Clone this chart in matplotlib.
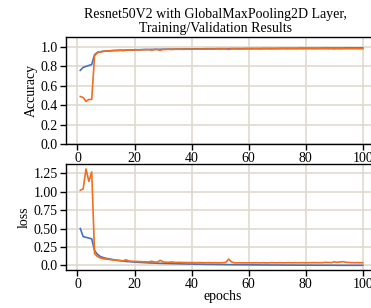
import matplotlib.pyplot as plt
import numpy as np

epochs = np.arange(1, 101)

acc = [0.76, 0.79, 0.80, 0.81, 0.82, 0.92, 0.945, 0.95, 0.955, 0.958,
       0.96, 0.962, 0.964, 0.965, 0.966, 0.967, 0.968, 0.969, 0.970, 0.971,
       0.972, 0.972, 0.973, 0.974, 0.974, 0.975, 0.975, 0.976, 0.976, 0.977,
       0.977, 0.978, 0.978, 0.978, 0.979, 0.979, 0.979, 0.980, 0.980, 0.980,
       0.981, 0.981, 0.981, 0.981, 0.982, 0.982, 0.982, 0.982, 0.983, 0.983,
       0.983, 0.983, 0.983, 0.984, 0.984, 0.984, 0.984, 0.984, 0.985, 0.985,
       0.985, 0.985, 0.985, 0.985, 0.986, 0.986, 0.986, 0.986, 0.986, 0.986,
       0.987, 0.987, 0.987, 0.987, 0.987, 0.987, 0.987, 0.988, 0.988, 0.988,
       0.988, 0.988, 0.988, 0.988, 0.988, 0.989, 0.989, 0.989, 0.989, 0.989,
       0.989, 0.989, 0.989, 0.990, 0.990, 0.990, 0.990, 0.990, 0.990, 0.990]

val_acc = [0.49, 0.48, 0.44, 0.46, 0.46, 0.91, 0.94, 0.95, 0.955, 0.958,
           0.96, 0.962, 0.963, 0.964, 0.966, 0.962, 0.967, 0.968, 0.966, 0.970,
           0.971, 0.970, 0.972, 0.973, 0.972, 0.968, 0.974, 0.974, 0.966, 0.975,
           0.975, 0.976, 0.974, 0.976, 0.977, 0.977, 0.976, 0.978, 0.978, 0.977,
           0.978, 0.978, 0.979, 0.978, 0.979, 0.979, 0.978, 0.979, 0.980, 0.979,
           0.980, 0.980, 0.975, 0.980, 0.980, 0.979, 0.980, 0.980, 0.980, 0.981,
           0.980, 0.981, 0.981, 0.980, 0.981, 0.981, 0.981, 0.980, 0.981, 0.981,
           0.981, 0.982, 0.981, 0.981, 0.982, 0.981, 0.982, 0.982, 0.981, 0.982,
           0.982, 0.982, 0.981, 0.982, 0.982, 0.982, 0.982, 0.981, 0.982, 0.980,
           0.982, 0.981, 0.982, 0.982, 0.982, 0.982, 0.982, 0.982, 0.982, 0.982]

loss = [0.50, 0.39, 0.38, 0.37, 0.36, 0.20, 0.15, 0.12, 0.105, 0.095,
        0.088, 0.080, 0.074, 0.068, 0.063, 0.058, 0.054, 0.050, 0.047, 0.044,
        0.041, 0.039, 0.037, 0.035, 0.033, 0.031, 0.030, 0.028, 0.027, 0.026,
        0.025, 0.024, 0.023, 0.022, 0.021, 0.020, 0.019, 0.018, 0.017, 0.017,
        0.016, 0.015, 0.015, 0.014, 0.013, 0.013, 0.012, 0.012, 0.011, 0.011,
        0.010, 0.010, 0.009, 0.009, 0.008, 0.008, 0.008, 0.007, 0.007, 0.007,
        0.006, 0.006, 0.006, 0.005, 0.005, 0.005, 0.005, 0.004, 0.004, 0.004,
        0.004, 0.003, 0.003, 0.003, 0.003, 0.003, 0.002, 0.002, 0.002, 0.002,
        0.002, 0.002, 0.001, 0.001, 0.001, 0.001, 0.001, 0.001, 0.001, 0.001,
        0.000, 0.000, 0.000, 0.000, 0.000, 0.000, 0.000, 0.000, 0.000, 0.000]

val_loss = [1.02, 1.04, 1.31, 1.14, 1.27, 0.16, 0.12, 0.10, 0.09, 0.085,
            0.080, 0.076, 0.072, 0.068, 0.064, 0.060, 0.075, 0.058, 0.055, 0.053,
            0.052, 0.050, 0.048, 0.047, 0.046, 0.055, 0.045, 0.044, 0.068, 0.046,
            0.042, 0.041, 0.045, 0.040, 0.039, 0.040, 0.038, 0.038, 0.037, 0.037,
            0.036, 0.036, 0.037, 0.035, 0.035, 0.036, 0.034, 0.035, 0.034, 0.034,
            0.035, 0.040, 0.085, 0.045, 0.034, 0.033, 0.034, 0.033, 0.033, 0.034,
            0.033, 0.033, 0.034, 0.033, 0.034, 0.033, 0.033, 0.035, 0.034, 0.034,
            0.035, 0.034, 0.034, 0.035, 0.034, 0.035, 0.034, 0.035, 0.035, 0.034,
            0.035, 0.035, 0.036, 0.035, 0.035, 0.036, 0.040, 0.038, 0.036, 0.048,
            0.040, 0.045, 0.050, 0.042, 0.038, 0.036, 0.035, 0.036, 0.035, 0.035]

blue = "#4a70b5"
orange = "#f26e1d"
grid_c = "#ddd6cc"

plt.rcParams["font.family"] = ["Liberation Serif", "DejaVu Serif"]
plt.rcParams["font.size"] = 10

fig = plt.figure(figsize=(3.71, 3.08), dpi=100)
ax1 = fig.add_axes([0.178, 0.532, 0.846, 0.347])
ax2 = fig.add_axes([0.178, 0.123, 0.846, 0.344])

ax1.plot(epochs, acc, color=blue, lw=1.2)
ax1.plot(epochs, val_acc, color=orange, lw=1.2)
ax1.set_ylim(0, 1.1)
ax1.set_yticks([0.0, 0.2, 0.4, 0.6, 0.8, 1.0])
ax1.set_ylabel("Accuracy", labelpad=2)

ax2.plot(epochs, loss, color=blue, lw=1.2)
ax2.plot(epochs, val_loss, color=orange, lw=1.2)
ax2.set_yticks([0.0, 0.25, 0.5, 0.75, 1.0, 1.25])
ax2.set_yticklabels(["0.0", "0.25", "0.50", "0.75", "1.00", "1.25"])
ax2.set_ylabel("loss", labelpad=2)
ax2.set_xlabel("epochs", labelpad=-1)

for ax in (ax1, ax2):
    ax.set_xlim(-4, 106)
    ax.set_xticks([0, 20, 40, 60, 80, 100])
    ax.grid(True, color=grid_c, lw=1.1)
    ax.set_axisbelow(True)
    ax.tick_params(length=4, width=1, pad=2, labelsize=10)
    for s in ax.spines.values():
        s.set_linewidth(1.0)

fig.text(0.58, 0.93, "Resnet50V2 with GlobalMaxPooling2D Layer,\nTraining/Validation Results",
         ha="center", va="center", fontsize=10, linespacing=1.1)

fig.savefig("out.png", dpi=100)
